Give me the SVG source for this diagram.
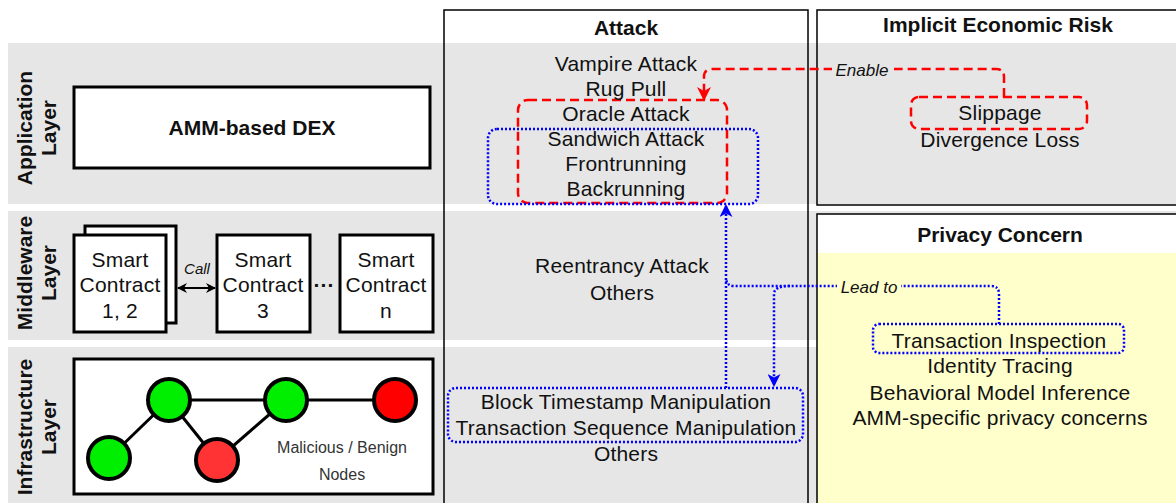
<svg xmlns="http://www.w3.org/2000/svg" width="1176" height="503" viewBox="0 0 1176 503">
  <style>
    text { font-family: "Liberation Sans", Arial, sans-serif; fill: #111; }
    .t { font-size: 21px; text-anchor: middle; letter-spacing: 0.2px; }
    .b { font-size: 21px; font-weight: bold; text-anchor: middle; }
    .lbl { font-size: 17px; font-style: italic; text-anchor: middle; }
    .band { fill: #e6e6e6; }
    .box { fill: #fff; stroke: #000; stroke-width: 3; }
    .col { fill: none; stroke: #000; stroke-width: 1.5; }
    .red { fill: none; stroke: #ff0000; stroke-width: 2.5; stroke-dasharray: 9 5; }
    .blue { fill: none; stroke: #0000ff; stroke-width: 2.5; stroke-dasharray: 2 2; }
    .edge { stroke: #000; stroke-width: 3; }
    .node { stroke: #000; stroke-width: 4; }
  </style>
  <defs>
    <marker id="arrRed" markerUnits="userSpaceOnUse" markerWidth="14" markerHeight="14" viewBox="0 0 14 14" refX="13" refY="7" orient="auto">
      <path d="M0,0 L14,7 L0,14 L4,7 Z" fill="#ff0000"/>
    </marker>
    <marker id="arrBlue" markerUnits="userSpaceOnUse" markerWidth="13" markerHeight="13" viewBox="0 0 13 13" refX="12" refY="6.5" orient="auto">
      <path d="M0,0 L13,6.5 L0,13 L3.5,6.5 Z" fill="#0000ff"/>
    </marker>
    <marker id="arrBlack" markerUnits="userSpaceOnUse" markerWidth="10" markerHeight="10" viewBox="0 0 10 10" refX="9" refY="5" orient="auto-start-reverse">
      <path d="M0,0 L10,5 L0,10 L3,5 Z" fill="#000"/>
    </marker>
  </defs>

  <!-- layer bands -->
  <g id="bands">
    <rect class="band" x="8" y="43" width="1168" height="161"/>
    <rect class="band" x="8" y="211" width="1168" height="129"/>
    <rect class="band" x="8" y="347" width="1168" height="156"/>
  </g>

  <!-- columns -->
  <g id="attack-column">
    <rect class="col" x="444" y="10" width="364" height="500"/>
    <text class="b" x="626" y="35">Attack</text>
  </g>
  <g id="economic-risk-column">
    <rect class="col" x="817" y="10" width="370" height="195"/>
    <text class="b" x="998" y="32">Implicit Economic Risk</text>
  </g>
  <g id="privacy-column">
    <rect x="817" y="214" width="370" height="39" fill="#fff"/>
    <rect x="817" y="253" width="370" height="260" fill="#ffffcc"/>
    <rect class="col" x="817" y="214" width="370" height="300"/>
    <text class="b" x="1000" y="242">Privacy Concern</text>
  </g>

  <!-- layer labels -->
  <g id="application-layer-label">
    <text class="b" transform="translate(32,128) rotate(-90)">Application</text>
    <text class="b" transform="translate(56,128) rotate(-90)">Layer</text>
  </g>
  <g id="middleware-layer-label">
    <text class="b" transform="translate(32,273) rotate(-90)">Middleware</text>
    <text class="b" transform="translate(56,273) rotate(-90)">Layer</text>
  </g>
  <g id="infrastructure-layer-label">
    <text class="b" transform="translate(32,427) rotate(-90)">Infrastructure</text>
    <text class="b" transform="translate(56,427) rotate(-90)">Layer</text>
  </g>

  <!-- application layer -->
  <g id="amm-dex">
    <rect class="box" x="74" y="87" width="356" height="81"/>
    <text class="b" x="252" y="135">AMM-based DEX</text>
  </g>

  <!-- middleware -->
  <g id="sc12">
    <rect class="box" x="85" y="226" width="91" height="97"/>
    <rect class="box" x="74" y="235" width="92" height="97"/>
    <text class="t" x="120" y="267">Smart</text>
    <text class="t" x="120" y="292">Contract</text>
    <text class="t" x="120" y="318">1, 2</text>
  </g>
  <g id="sc3">
    <rect class="box" x="217" y="235" width="93" height="97"/>
    <text class="t" x="263" y="267">Smart</text>
    <text class="t" x="263" y="292">Contract</text>
    <text class="t" x="263" y="318">3</text>
  </g>
  <g id="ellipsis">
    <text class="b" x="324" y="292">···</text>
  </g>
  <g id="scn">
    <rect class="box" x="340" y="235" width="93" height="97"/>
    <text class="t" x="386" y="267">Smart</text>
    <text class="t" x="386" y="292">Contract</text>
    <text class="t" x="386" y="318">n</text>
  </g>

  <!-- infrastructure -->
  <g id="p2p-network">
    <rect class="box" x="74" y="359" width="359" height="135"/>
    <line class="edge" x1="109" y1="458" x2="169" y2="400"/>
    <line class="edge" x1="169" y1="400" x2="217" y2="460"/>
    <line class="edge" x1="169" y1="400" x2="286" y2="400"/>
    <line class="edge" x1="286" y1="400" x2="217" y2="460"/>
    <line class="edge" x1="286" y1="400" x2="395" y2="400"/>
    <circle class="node" cx="169" cy="400" r="21" fill="#00ee00"/>
    <circle class="node" cx="286" cy="400" r="21" fill="#00ee00"/>
    <circle class="node" cx="395" cy="400" r="21" fill="#ff0000"/>
    <circle class="node" cx="109" cy="458" r="21" fill="#00ee00"/>
    <circle class="node" cx="217" cy="460" r="21" fill="#ff3333"/>
    <text x="342" y="453" style="font-size:16px;text-anchor:middle;fill:#333">Malicious / Benign</text>
    <text x="342" y="480" style="font-size:16px;text-anchor:middle;fill:#333">Nodes</text>
  </g>

  <!-- attack texts -->
  <g id="app-attacks">
    <rect class="red" x="518" y="100" width="209" height="103" rx="10"/>
    <rect class="blue" x="488" y="129" width="270" height="75" rx="9"/>
    <text class="t" x="626" y="71">Vampire Attack</text>
    <text class="t" x="626" y="96">Rug Pull</text>
    <text class="t" x="626" y="121">Oracle Attack</text>
    <text class="t" x="626" y="146">Sandwich Attack</text>
    <text class="t" x="626" y="171">Frontrunning</text>
    <text class="t" x="626" y="196">Backrunning</text>
  </g>
  <g id="middleware-attacks">
    <text class="t" x="622" y="273">Reentrancy Attack</text>
    <text class="t" x="622" y="300">Others</text>
  </g>
  <g id="infra-attacks">
    <rect class="blue" x="448" y="388" width="355" height="54" rx="8"/>
    <text class="t" x="626" y="409">Block Timestamp Manipulation</text>
    <text class="t" x="626" y="435">Transaction Sequence Manipulation</text>
    <text class="t" x="626" y="461">Others</text>
  </g>

  <!-- economic risk -->
  <g id="economic-risks">
    <rect class="red" x="911" y="97" width="176" height="32" rx="8"/>
    <text class="t" x="1000" y="120">Slippage</text>
    <text class="t" x="1000" y="147">Divergence Loss</text>
  </g>

  <!-- privacy -->
  <g id="privacy-concerns">
    <rect class="blue" x="873" y="324" width="251" height="29" rx="6"/>
    <text class="t" x="999" y="348">Transaction Inspection</text>
    <text class="t" x="1000" y="373">Identity Tracing</text>
    <text class="t" x="1000" y="400">Behavioral Model Inference</text>
    <text class="t" x="1000" y="425">AMM-specific privacy concerns</text>
  </g>

  <!-- connectors -->
  <g id="connectors">
    <line x1="178" y1="288" x2="215" y2="288" stroke="#000" stroke-width="2" marker-start="url(#arrBlack)" marker-end="url(#arrBlack)"/>
    <text class="lbl" x="197" y="274" style="font-size:15px">Call</text>

    <path class="red" d="M1004,97 L1004,77 Q1004,69 996,69 L712,69 Q704,69 704,77 L704,100" marker-end="url(#arrRed)"/>
    <rect x="832" y="60" width="62" height="20" fill="#e6e6e6"/>
    <text class="lbl" x="862" y="76">Enable</text>

    <path class="blue" d="M726,388 L726,205" marker-end="url(#arrBlue)"/>
    <path class="blue" d="M999,324 L999,294 Q999,286 991,286 L734,286 Q727,286 726,279"/>
    <path class="blue" d="M790,286 Q774,286 774,294 L774,386" marker-end="url(#arrBlue)"/>
    <rect x="837" y="277" width="64" height="20" fill="#ffffcc"/>
    <text class="lbl" x="869" y="293">Lead to</text>
  </g>
</svg>
